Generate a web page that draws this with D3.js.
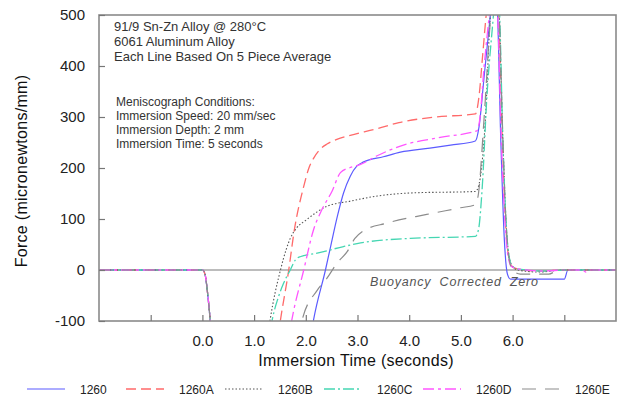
<!DOCTYPE html>
<html lang="en">
<head>
    <meta charset="UTF-8">
    <title>Meniscograph Force Curves</title>
    <script src="https://d3js.org/d3.v7.min.js"></script>
    <style>
        body {
            margin: 0;
            padding: 0;
            background: #fff;
        }
        svg {
            display: block;
            font-family: Arial, "Liberation Sans", sans-serif;
        }
        .tick-label {
            font-size: 15px;
            fill: #222;
        }
        .axis-title {
            font-size: 16px;
            fill: #111;
        }
        .note {
            fill: #333;
        }
    </style>
</head>
<body>
    <svg id="chart" width="621" height="396"></svg>

    <script>
        // series names (legend order)
        const seriesNames = ["1260", "1260A", "1260B", "1260C", "1260D", "1260E"];

        // force curves: [time (s), force (micronewtons/mm)]
        const s1260 = [
            [-2, 0], [0, 0], [0.05, -8], [0.1, -45], [0.16, -110], [0.22, -200],
            [2.08, -140], [2.15, -98], [2.38, 0], [2.48, 46], [2.61, 105], [2.73, 151],
            [2.86, 184], [2.99, 204], [3.12, 212], [3.5, 222], [3.83, 231], [4.4, 239],
            [4.8, 245], [5.28, 253], [5.35, 280], [5.45, 380], [5.57, 500], [5.63, 560],
            [5.70, 520], [5.77, 260], [5.84, 60], [5.90, -8], [5.96, -18], [7.0, -18],
            [7.07, 0], [8, 0]
        ];
        const s1260A = [
            [-2, 0], [0, 0], [0.05, -8], [0.1, -45], [0.16, -110], [0.22, -200],
            [1.45, -140], [1.51, -98], [1.67, 0], [1.77, 73], [1.96, 164], [2.06, 200],
            [2.15, 219], [2.27, 236], [2.41, 247], [2.6, 256], [2.86, 264], [3.38, 277],
            [3.8, 289], [4.5, 300], [5.28, 306], [5.35, 340], [5.42, 420], [5.5, 510],
            [5.6, 560], [5.72, 520], [5.80, 260], [5.86, 100], [5.91, 35], [5.98, 8],
            [6.1, 2], [6.5, -2], [7.0, 0], [8, 0]
        ];
        const s1260B = [
            [-2, 0], [0, 0], [0.05, -8], [0.1, -45], [0.16, -110], [0.22, -200],
            [1.25, -140], [1.31, -98], [1.51, 0], [1.62, 40], [1.70, 62], [1.82, 82],
            [2.02, 99], [2.22, 114], [2.41, 125], [2.86, 135], [3.38, 145], [4.02, 151],
            [5.28, 154], [5.34, 164], [5.47, 289], [5.57, 500], [5.65, 560], [5.73, 520],
            [5.81, 260], [5.87, 100], [5.92, 35], [5.99, 8], [6.1, 0], [6.5, -4],
            [7.0, 0], [8, 0]
        ];
        const s1260C = [
            [-2, 0], [0, 0], [0.05, -8], [0.1, -45], [0.16, -110], [0.22, -200],
            [1.28, -140], [1.35, -98], [1.47, -53], [1.57, -26], [1.70, 0], [1.80, 20],
            [1.89, 26], [2.22, 33], [2.73, 46], [3.06, 53], [3.25, 56], [4.02, 62],
            [5.28, 66], [5.34, 79], [5.41, 158], [5.5, 335], [5.63, 500], [5.68, 560],
            [5.74, 520], [5.81, 260], [5.87, 100], [5.92, 35], [5.99, 8], [6.1, 2],
            [6.6, -2], [7.0, 0], [8, 0]
        ];
        const s1260D = [
            [-2, 0], [0, 0], [0.05, -8], [0.1, -45], [0.16, -110], [0.22, -200],
            [1.66, -140], [1.73, -98], [1.96, 0], [2.15, 79], [2.31, 118], [2.51, 155],
            [2.67, 191], [2.86, 201], [3.06, 207], [3.38, 224], [3.83, 243], [4.6, 260],
            [5.31, 273], [5.36, 292], [5.45, 400], [5.55, 500], [5.62, 560], [5.70, 520],
            [5.78, 260], [5.85, 100], [5.90, 35], [5.97, 8], [6.1, 2], [6.6, -2],
            [7.0, 0], [7.35, 0], [7.42, -4], [7.5, 0], [8, 0]
        ];
        const s1260E = [
            [-2, 0], [0, 0], [0.05, -8], [0.1, -45], [0.16, -110], [0.22, -200],
            [1.85, -140], [1.93, -98], [2.22, -40], [2.41, -16], [2.60, 13], [2.80, 36],
            [2.95, 62], [3.1, 76], [3.57, 92], [4.34, 109], [4.99, 122], [5.28, 128],
            [5.34, 150], [5.45, 300], [5.58, 500], [5.66, 560], [5.73, 520], [5.81, 260],
            [5.87, 100], [5.92, 30], [6.0, 0], [6.15, -8], [6.7, -8], [6.85, -2],
            [7.0, 0], [8, 0]
        ];
        const seriesValues = [s1260, s1260A, s1260B, s1260C, s1260D, s1260E];

        // axis ticks
        const xTicks = [-1, 0, 1, 2, 3, 4, 5, 6, 7];
        const xTickLabels = ["", "0.0", "1.0", "2.0", "3.0", "4.0", "5.0", "6.0", ""];
        const yTicks = [-100, 0, 100, 200, 300, 400, 500];

        // notes printed inside the plot
        const headerLines = ["91/9 Sn-Zn Alloy @ 280°C", "6061 Aluminum Alloy", "Each Line Based On 5 Piece Average"];
        const conditionLines = ["Meniscograph Conditions:", "Immersion Speed: 20 mm/sec", "Immersion Depth: 2 mm", "Immersion Time: 5 seconds"];

        // line styles for each series
        const styles = [
            { color: "#5b5bff", dash: null, width: 1.2 },
            { color: "#ff6a6a", dash: "10,5", width: 1.3 },
            { color: "#555555", dash: "1.5,2", width: 1.1 },
            { color: "#45d6b2", dash: "11,3,2,3", width: 1.3 },
            { color: "#ff55ff", dash: "11,4,3,4", width: 1.3 },
            { color: "#8c8c8c", dash: "14,9", width: 1.2 }
        ];

        const svg = d3.select("#chart");
        const plot = { left: 99, right: 616, top: 15, bottom: 321 };

        const x = d3.scaleLinear().domain([-2, 8]).range([plot.left, plot.right]);
        const y = d3.scaleLinear().domain([-100, 500]).range([plot.bottom, plot.top]);

        svg.append("defs").append("clipPath")
            .attr("id", "plot-clip")
            .append("rect")
            .attr("x", plot.left)
            .attr("y", plot.top)
            .attr("width", plot.right - plot.left)
            .attr("height", plot.bottom - plot.top);

        // zero line
        svg.append("line")
            .attr("x1", plot.left).attr("x2", plot.right)
            .attr("y1", y(0)).attr("y2", y(0))
            .attr("stroke", "#7a7a7a")
            .attr("stroke-width", 1.2);

        // curves
        const line = d3.line()
            .x(d => x(d[0]))
            .y(d => y(d[1]))
            .curve(d3.curveMonotoneX);

        const curves = svg.append("g").attr("clip-path", "url(#plot-clip)");
        seriesValues.forEach((vals, i) => {
            curves.append("path")
                .datum(vals)
                .attr("d", line)
                .attr("fill", "none")
                .attr("stroke", styles[i].color)
                .attr("stroke-width", styles[i].width)
                .attr("stroke-dasharray", styles[i].dash);
        });

        // frame
        svg.append("rect")
            .attr("x", plot.left).attr("y", plot.top)
            .attr("width", plot.right - plot.left)
            .attr("height", plot.bottom - plot.top)
            .attr("fill", "none")
            .attr("stroke", "#8a8a8a")
            .attr("stroke-width", 1.6);

        // bottom axis (ticks point inward)
        const xAxis = d3.axisBottom(x)
            .tickValues(xTicks)
            .tickSize(-6)
            .tickPadding(14)
            .tickFormat((d, i) => xTickLabels[i]);
        const gx = svg.append("g")
            .attr("transform", `translate(0,${plot.bottom})`)
            .call(xAxis);
        gx.select(".domain").remove();
        gx.selectAll(".tick line").attr("stroke", "#777").attr("stroke-width", 1.2);
        gx.selectAll(".tick text").attr("class", "tick-label").attr("font-size", null).attr("font-family", null);

        // left axis (plain hyphen for negatives, like the original)
        const yAxis = d3.axisLeft(y)
            .tickValues(yTicks)
            .tickSize(-6)
            .tickPadding(14)
            .tickFormat(d => String(d));
        const gy = svg.append("g")
            .attr("transform", `translate(${plot.left},0)`)
            .call(yAxis);
        gy.select(".domain").remove();
        gy.selectAll(".tick line").attr("stroke", "#777").attr("stroke-width", 1.2);
        gy.selectAll(".tick text").attr("class", "tick-label").attr("font-size", null).attr("font-family", null);

        // axis titles
        svg.append("text")
            .attr("class", "axis-title")
            .attr("x", 356).attr("y", 366)
            .attr("text-anchor", "middle")
            .style("letter-spacing", "0.3px")
            .text("Immersion Time (seconds)");

        svg.append("text")
            .attr("class", "axis-title")
            .attr("transform", "translate(27,171) rotate(-90)")
            .attr("text-anchor", "middle")
            .style("letter-spacing", "0.3px")
            .text("Force (micronewtons/mm)");

        // notes
        svg.append("g").selectAll("text")
            .data(headerLines)
            .enter().append("text")
            .attr("class", "note")
            .attr("x", 114)
            .attr("y", (d, i) => 31 + i * 15)
            .style("font-size", "13px")
            .text(d => d);

        svg.append("g").selectAll("text")
            .data(conditionLines)
            .enter().append("text")
            .attr("class", "note")
            .attr("x", 116)
            .attr("y", (d, i) => 106 + i * 14)
            .style("font-size", "12px")
            .text(d => d);

        svg.append("text")
            .attr("x", 370).attr("y", 286)
            .attr("fill", "#555")
            .style("font-size", "12.5px")
            .style("font-style", "italic")
            .style("letter-spacing", "0.8px")
            .style("word-spacing", "4px")
            .text("Buoyancy Corrected Zero");

        // legend along the bottom edge
        const legend = svg.append("g");
        seriesNames.forEach((name, i) => {
            const lx = 27 + i * 99;
            legend.append("line")
                .attr("x1", lx).attr("x2", lx + 38)
                .attr("y1", 389).attr("y2", 389)
                .attr("stroke", styles[i].color)
                .attr("stroke-width", styles[i].width)
                .attr("stroke-dasharray", styles[i].dash);
            legend.append("text")
                .attr("x", lx + 53).attr("y", 394)
                .attr("fill", "#222")
                .style("font-size", "12px")
                .text(name);
        });
    </script>
</body>
</html>
